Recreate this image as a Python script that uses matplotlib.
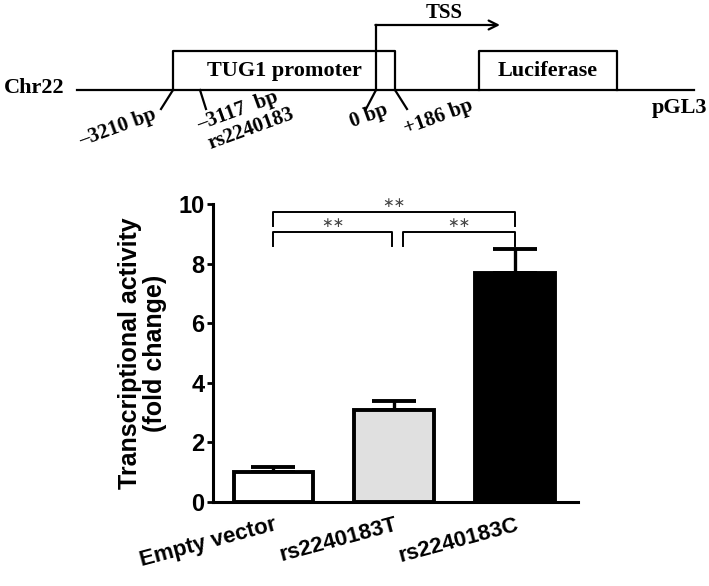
import matplotlib as mpl
import matplotlib.pyplot as plt
import numpy as np

mpl.rcParams.update({
    "font.family": "sans-serif",
    "font.sans-serif": ["Liberation Sans", "Arial", "DejaVu Sans"],
    "font.weight": "bold",
    "axes.spines.right": False,
    "axes.spines.top": False,
})

# bar chart data
groups = ["Empty vector", "rs2240183T", "rs2240183C"]
means = [1.0, 3.1, 7.7]
errors = [0.18, 0.3, 0.8]
fills = ["white", "#e0e0e0", "black"]

# significance brackets: (left bar, right bar, y, label)
brackets = [(0, 2, 9.74, "**"), (0, 0.98, 9.07, "**"), (1.07, 2, 9.07, "**")]

# promoter diagram (pixel coordinates of the figure)
bp_labels = ["\u20133210 bp", "\u20133117  bp", "rs2240183", "0 bp", "+186 bp"]
bp_text_pos = [(118, 128), (238, 111), (251, 129), (369, 116), (438, 117)]
bp_ticks = [(173, 161), (200, 206), (376, 366), (395, 407)]

W, H = 709, 586
fig = plt.figure(figsize=(W / 100, H / 100), dpi=100)

# ---- top diagram ----
dax = fig.add_axes([0, 0, 1, 1])
dax.set_xlim(0, W)
dax.set_ylim(H, 0)
dax.axis("off")
serif = dict(family=["Liberation Serif", "DejaVu Serif"], weight="bold")
lw = 1.6
base_y = 90
dax.plot([77, 694], [base_y, base_y], color="black", lw=lw)
for x0, x1, label, cx in [(173, 395, "TUG1 promoter", 284),
                          (479, 617, "Luciferase", 548)]:
    dax.plot([x0, x0, x1, x1], [base_y, 51, 51, base_y], color="black", lw=lw)
    dax.text(cx, 71, label, ha="center", va="center", fontsize=16, **serif)
dax.plot([376, 376], [base_y, 25], color="black", lw=lw)
dax.annotate("", xy=(500, 25), xytext=(375.4, 25),
             arrowprops=dict(arrowstyle="->", lw=lw, color="black",
                             mutation_scale=16, shrinkA=0, shrinkB=0))
dax.text(444, 13, "TSS", ha="center", va="center", fontsize=15, **serif)
dax.text(34, 88, "Chr22", ha="center", va="center", fontsize=16, **serif)
dax.text(680, 108, "pGL3", ha="center", va="center", fontsize=16, **serif)
for xa, xb in bp_ticks:
    dax.plot([xa, xb], [base_y, 109], color="black", lw=lw)
for lab, (tx, ty) in zip(bp_labels, bp_text_pos):
    dax.text(tx, ty, lab, ha="center", va="center", rotation=20,
             fontsize=15, **serif)

# ---- bar chart ----
ax = fig.add_axes([213 / W, 1 - 502 / H, 365 / W, 298 / H])
x = np.arange(len(groups))
ax.bar(x, means, width=0.66, color=fills, edgecolor="black", linewidth=2.8,
       zorder=2)
ax.errorbar(x, means, yerr=[np.zeros(len(errors)), errors], fmt="none",
            ecolor="black", elinewidth=2.4, capsize=16, capthick=2.8, zorder=1)
ax.set_xlim(-0.5, 2.52)
ax.set_ylim(0, 10)
ax.set_yticks([0, 2, 4, 6, 8, 10])
ax.set_xticks(x)
ax.set_xticklabels(groups, rotation=15, ha="right", rotation_mode="anchor",
                   fontsize=16, fontweight="bold")
ax.tick_params(axis="x", length=0, pad=9)
ax.tick_params(axis="y", length=4, width=2, labelsize=17, pad=2)
ax.spines["left"].set_linewidth(2.2)
ax.spines["bottom"].set_linewidth(2.2)
ax.set_ylabel("Transcriptional activity\n(fold change)", fontsize=18,
              fontweight="bold", labelpad=8, linespacing=1.05)

for xl, xr, y, lab in brackets:
    ax.plot([xl, xl, xr, xr], [y - 0.48, y, y, y - 0.48], color="black",
            lw=1.4, clip_on=False)
    ax.text((xl + xr) / 2, y + 0.3, "\u2217\u2217", ha="center", va="center",
            fontsize=10, color="#444444", fontweight="normal",
            family="DejaVu Sans", clip_on=False)

fig.savefig("out.png", dpi=100)
